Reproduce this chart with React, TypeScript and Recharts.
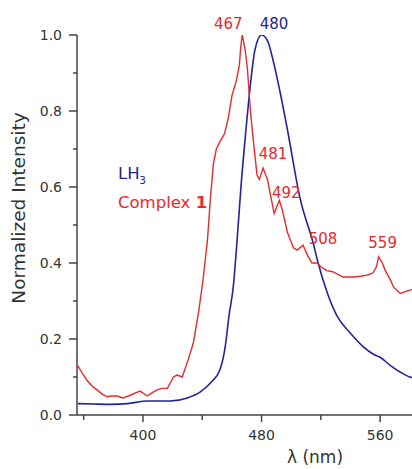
import React from 'react';
import { LineChart, Line, XAxis, YAxis, ReferenceDot } from 'recharts';

// LH3 emission (blue)
const lh3Wavelength = [356, 366.5, 378, 389.5, 403, 418.5, 430, 438.5, 445.5, 452, 455.5, 458, 461, 463.5, 466.5, 469, 472.5, 475.5, 480, 484, 488, 492.5, 497.5, 506, 515, 517.5, 524.5, 531, 540, 548.5, 555.5, 560, 567, 573.5, 580, 582];
const lh3Intensity = [0.03, 0.029, 0.028, 0.03, 0.037, 0.037, 0.045, 0.06, 0.084, 0.12, 0.18, 0.26, 0.34, 0.46, 0.62, 0.73, 0.87, 0.96, 1.0, 0.985, 0.93, 0.85, 0.75, 0.57, 0.45, 0.41, 0.32, 0.26, 0.215, 0.18, 0.16, 0.152, 0.13, 0.113, 0.1, 0.098];

// Complex 1 emission (red)
const complexWavelength = [356, 359, 362.5, 366, 369, 372.5, 376, 379, 382.5, 386.5, 391.5, 395, 398, 403, 406, 409.5, 413, 416.5, 420.5, 423, 426.5, 430.5, 434, 437.5, 440.5, 443.5, 445.5, 447.5, 449.5, 452, 455, 457.5, 460, 463, 465, 466, 467, 469, 470.5, 472.5, 474.5, 477, 478.5, 481, 484, 486, 488.5, 492, 494, 497.5, 501.5, 504, 508, 511, 514, 517.5, 520, 524, 528, 535, 542, 547, 551, 555, 557.5, 559, 561.5, 563.5, 567, 569, 573.5, 578, 581, 582];
const complexIntensity = [0.13, 0.11, 0.09, 0.075, 0.066, 0.055, 0.048, 0.05, 0.05, 0.045, 0.052, 0.058, 0.063, 0.05, 0.058, 0.066, 0.07, 0.07, 0.1, 0.105, 0.1, 0.145, 0.19, 0.27, 0.355, 0.46, 0.57, 0.66, 0.7, 0.72, 0.74, 0.78, 0.84, 0.88, 0.92, 0.97, 1.0, 0.96, 0.91, 0.8, 0.72, 0.63, 0.62, 0.65, 0.62, 0.58, 0.53, 0.565, 0.54, 0.48, 0.44, 0.434, 0.447, 0.42, 0.4, 0.4, 0.39, 0.38, 0.377, 0.363, 0.363, 0.365, 0.368, 0.373, 0.39, 0.416, 0.4, 0.38, 0.355, 0.337, 0.32, 0.326, 0.33, 0.33];

const lh3Peaks = [480];
const complexPeaks = [467, 481, 492, 508, 559];

const xTicks = [360, 400, 440, 480, 520, 560];
const xLabelled = [400, 480, 560];
const yTicks = [0, 0.1, 0.2, 0.3, 0.4, 0.5, 0.6, 0.7, 0.8, 0.9, 1.0];

const BLUE = '#23239a';
const RED = '#e8282c';
const AXIS = '#444';
const FONT = 'DejaVu Sans';

const toRows = (xs: number[], ys: number[]) => xs.map((nm, i) => ({ nm, v: ys[i] }));
const lh3Data = toRows(lh3Wavelength, lh3Intensity);
const complexData = toRows(complexWavelength, complexIntensity);

const valueAt = (xs: number[], ys: number[], nm: number) => ys[xs.indexOf(nm)];

// label offsets (px) from the peak point to the text baseline
const labelOffset: Record<number, [number, number]> = {
  467: [-14, -6.5],
  480: [12.5, -6.5],
  481: [10, -9.5],
  492: [7, -2.5],
  508: [20, -1.5],
  559: [4, -8.5],
};

const XTick = (props: any) => {
  const { x, y, payload } = props;
  const major = xLabelled.includes(payload.value);
  return (
    <g>
      <line x1={x} x2={x} y1={y} y2={y + (major ? 7 : 5)} stroke={AXIS} strokeWidth={1.5} />
      {major && (
        <text x={x} y={y + 25} textAnchor="middle" fontSize={14} fontFamily={FONT} fill="#333">
          {payload.value}
        </text>
      )}
    </g>
  );
};

const YTick = (props: any) => {
  const { x, y, payload } = props;
  const major = Math.round(payload.value * 10) % 2 === 0;
  return (
    <g>
      <line x1={x - (major ? 8 : 4)} x2={x} y1={y} y2={y} stroke={AXIS} strokeWidth={1.5} />
      {major && (
        <text x={x - 15} y={y + 5} textAnchor="end" fontSize={14} fontFamily={FONT} fill="#333">
          {payload.value.toFixed(1)}
        </text>
      )}
    </g>
  );
};

const peakDot = (nm: number, value: number, color: string) => {
  const [dx, dy] = labelOffset[nm];
  return (
    <ReferenceDot
      key={`${color}-${nm}`}
      x={nm}
      y={value}
      r={0}
      ifOverflow="visible"
      shape={(p: any) => (
        <text x={p.cx + dx} y={p.cy + dy} textAnchor="middle" fontSize={15} fontFamily={FONT} fill={color}>
          {nm}
        </text>
      )}
    />
  );
};

export default function App() {
  return (
    <div style={{ position: 'fixed', left: 0, top: 0, width: 412, height: 469, background: '#fff', fontFamily: FONT }}>
      <LineChart width={412} height={469} margin={{ top: 35, right: 0, bottom: 0, left: 0 }}>
        <XAxis
          dataKey="nm"
          type="number"
          domain={[355.5, 581.5]}
          allowDataOverflow
          ticks={xTicks}
          interval={0}
          height={54}
          tickSize={0}
          tickMargin={0}
          tickLine={false}
          axisLine={{ stroke: AXIS, strokeWidth: 1.5 }}
          tick={<XTick />}
          label={{
            content: () => (
              <text x={315} y={463} textAnchor="middle" fontSize={17} fontFamily={FONT} fill="#333">
                λ (nm)
              </text>
            ),
          }}
        />
        <YAxis
          type="number"
          domain={[0, 1]}
          allowDataOverflow
          ticks={yTicks}
          interval={0}
          width={77}
          tickSize={0}
          tickMargin={0}
          tickLine={false}
          axisLine={{ stroke: AXIS, strokeWidth: 1.5 }}
          tick={<YTick />}
          label={{
            content: () => (
              <text
                x={25}
                y={208}
                transform="rotate(-90 25 208)"
                textAnchor="middle"
                fontSize={18.5}
                fontFamily={FONT}
                fill="#333"
              >
                Normalized Intensity
              </text>
            ),
          }}
        />
        <Line data={lh3Data} dataKey="v" type="monotone" stroke={BLUE} strokeWidth={1.6} dot={false} isAnimationActive={false} />
        <Line data={complexData} dataKey="v" type="linear" stroke={RED} strokeWidth={1.4} dot={false} isAnimationActive={false} />
        {lh3Peaks.map((nm) => peakDot(nm, valueAt(lh3Wavelength, lh3Intensity, nm), BLUE))}
        {complexPeaks.map((nm) => peakDot(nm, valueAt(complexWavelength, complexIntensity, nm), RED))}
      </LineChart>
      <svg width={412} height={469} style={{ position: 'absolute', left: 0, top: 0, pointerEvents: 'none' }}>
        <text x={118} y={179} fontSize={16.5} fontFamily={FONT} fill={BLUE}>
          LH<tspan fontSize={10} dy={5}>3</tspan>
        </text>
        <text x={118} y={208} fontSize={16.5} fontFamily={FONT} fill={RED}>
          Complex <tspan fontWeight="bold">1</tspan>
        </text>
      </svg>
    </div>
  );
}
